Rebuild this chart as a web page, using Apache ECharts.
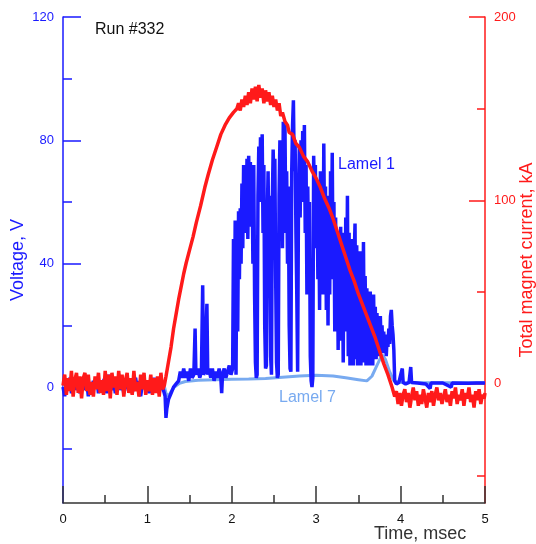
<!DOCTYPE html>
<html>
<head>
<meta charset="utf-8">
<script src="https://cdn.jsdelivr.net/npm/echarts@6/dist/echarts.min.js"></script>
<style>
  html, body { margin: 0; padding: 0; background: #fff; }
  #chart { width: 536px; height: 544px; }
</style>
</head>
<body>
<div id="chart"></div>
<script>
// tick values
const timeTicks = [0, 1, 2, 3, 4, 5];
const timeMinorTicks = [0.5, 1.5, 2.5, 3.5, 4.5];
const voltTicks = [0, 40, 80, 120];
const voltMinorTicks = [-20, 20, 60, 100];
const currTicks = [0, 100, 200];
const currMinorTicks = [-50, 50, 150];

// Total magnet current, kA  [time msec, kA]
const currentData = [
  [0,-1],[0.02,5],[0.04,-6],[0.06,3],[0.08,-4],[0.1,7],[0.12,-7],[0.14,2],[0.16,6],[0.18,-5],
  [0.2,4],[0.22,-8],[0.24,3],[0.26,6],[0.28,-4],[0.3,5],[0.32,-6],[0.34,1],[0.36,-7],[0.38,4],
  [0.4,-3],[0.42,6],[0.44,-5],[0.46,2],[0.48,-6],[0.5,7],[0.52,-4],[0.54,5],[0.56,-8],[0.58,6],
  [0.6,-2],[0.62,4],[0.64,-6],[0.66,7],[0.68,-3],[0.7,5],[0.72,-7],[0.74,2],[0.76,6],[0.78,-5],
  [0.8,3],[0.82,-6],[0.84,7],[0.86,-4],[0.88,1],[0.9,-7],[0.92,5],[0.94,-3],[0.96,6],[0.98,-6],
  [1,2],[1.02,-4],[1.04,5],[1.06,-6],[1.08,3],[1.1,-5],[1.12,4],[1.14,-7],[1.16,6],[1.18,-3],[1.2,-1],
  [1.22,4],[1.25,12],[1.28,20],[1.31,30],[1.34,38],[1.37,46],[1.4,53],[1.43,60],[1.46,66],[1.5,73],
  [1.54,80],[1.58,88],[1.63,97],[1.68,107],[1.72,114],[1.77,122],[1.82,129],[1.87,136],[1.92,141],
  [1.97,145],[2.02,148],[2.06,150],[2.08,153],[2.1,149],[2.12,155],[2.14,151],[2.16,157],[2.18,152],
  [2.2,159],[2.22,153],[2.24,161],[2.26,155],[2.28,162],[2.3,154],[2.32,163],[2.34,156],[2.36,161],
  [2.38,153],[2.4,160],[2.42,154],[2.44,159],[2.46,152],[2.48,157],[2.5,151],[2.52,155],[2.54,149],
  [2.56,153],[2.58,146],[2.6,148],[2.63,143],[2.66,141],[2.68,137],[2.72,136],[2.76,131],[2.8,129],
  [2.85,124],[2.9,121],[2.95,116],[3,112],[3.05,107],[3.1,101],[3.15,96],[3.2,90],[3.25,83],
  [3.3,76],[3.35,69],[3.4,62],[3.45,56],[3.5,49],[3.55,43],[3.6,37],[3.65,31],[3.7,25],[3.75,18],
  [3.8,11],[3.85,5],[3.9,-2],[3.93,-7],
  [3.95,-4],[3.97,-11],[3.99,-5],[4.01,-12],[4.03,-6],[4.05,-3],[4.07,-10],[4.09,-5],[4.11,-13],
  [4.13,-7],[4.15,-2],[4.17,-9],[4.19,-4],[4.21,-12],[4.23,-6],[4.25,-11],[4.27,-3],[4.29,-8],
  [4.31,-13],[4.33,-5],[4.35,-10],[4.37,-4],[4.39,-12],[4.41,-6],[4.43,-2],[4.45,-9],[4.47,-5],
  [4.49,-11],[4.51,-7],[4.53,-3],[4.55,-10],[4.57,-6],[4.59,-12],[4.61,-4],[4.63,-8],[4.65,-2],
  [4.67,-11],[4.69,-6],[4.71,-9],[4.73,-3],[4.75,-12],[4.77,-5],[4.79,-8],[4.81,-2],[4.83,-10],
  [4.85,-6],[4.87,-13],[4.89,-4],[4.91,-9],[4.93,-3],[4.95,-11],[4.97,-6],[4.99,-8],[5,-5]
];

// Lamel 1 voltage, V
const lamel1Data = [
  [0,0],[0.02,-3],[0.04,2],[0.06,-1],[0.08,3],[0.1,-2],[0.12,1],[0.14,3],[0.16,-1],[0.18,2],
  [0.2,-2],[0.22,0],[0.24,3],[0.26,-1],[0.28,2],[0.3,-3],[0.32,1],[0.34,-1],[0.36,2],[0.38,0],
  [0.4,3],[0.42,-2],[0.44,1],[0.46,-1],[0.48,2],[0.5,3],[0.52,-2],[0.54,4],[0.56,1],[0.58,-1],
  [0.6,2],[0.62,-2],[0.64,1],[0.66,3],[0.68,-1],[0.7,2],[0.72,-2],[0.74,0],[0.76,3],[0.78,-1],
  [0.8,2],[0.82,-2],[0.84,1],[0.86,3],[0.88,-1],[0.9,2],[0.92,-3],[0.94,1],[0.96,2],[0.98,-1],
  [1,1],[1.02,-2],[1.04,2],[1.06,0],[1.08,3],[1.1,-1],[1.12,1],[1.14,-2],[1.16,2],[1.18,0],
  [1.2,0],[1.21,-3],[1.22,-10],[1.23,-7],[1.25,-4],[1.28,-2],[1.31,0],[1.34,1],[1.37,2],[1.39,5],
  [1.41,3],[1.43,6],[1.45,3],[1.47,5],[1.49,2],[1.51,6],[1.53,3],[1.55,4],[1.565,19],[1.575,4],
  [1.6,6],[1.62,3],[1.64,5],[1.655,33],[1.665,4],[1.68,5],[1.705,27],[1.715,4],[1.73,6],[1.75,3],
  [1.77,6],[1.79,2],[1.81,5],[1.83,3],[1.85,6],[1.87,3],[1.88,-2],[1.89,4],[1.91,6],[1.93,3],
  [1.95,5],[1.97,7],[1.99,4],[2,4],
  [2.01,6],[2.02,48],[2.03,12],[2.04,54],[2.05,4],[2.06,52],[2.07,18],[2.08,57],[2.09,35],[2.1,58],
  [2.11,40],[2.12,66],[2.13,45],[2.14,72],[2.15,50],[2.16,70],[2.17,55],[2.18,74],[2.19,48],[2.2,75],
  [2.21,58],[2.22,73],[2.23,52],[2.24,70],[2.25,40],[2.26,72],[2.27,30],[2.28,8],[2.29,3],[2.3,4],
  [2.31,62],[2.32,78],[2.33,60],[2.34,81],[2.35,65],[2.36,82],[2.37,50],[2.38,72],[2.39,20],[2.4,6],
  [2.41,7],[2.42,55],[2.43,70],[2.44,40],[2.45,62],[2.46,10],[2.47,4],[2.48,60],[2.49,77],[2.5,65],
  [2.51,74],[2.52,35],[2.53,8],[2.54,3],[2.55,4],[2.56,62],[2.57,80],[2.58,55],[2.59,78],[2.6,45],
  [2.61,86],[2.62,60],[2.63,85],[2.64,50],[2.65,70],[2.66,40],[2.67,65],[2.68,20],[2.69,6],[2.7,5],
  [2.71,70],[2.72,85],[2.73,93],[2.74,70],[2.75,80],[2.76,50],[2.77,30],[2.78,5],[2.79,60],[2.8,78],
  [2.81,55],[2.82,80],[2.83,60],[2.84,83],[2.85,70],[2.86,85],[2.87,50],[2.88,72],[2.89,30],[2.9,65],
  [2.91,40],[2.92,60],[2.93,10],[2.94,2],[2.95,0],[2.96,3],[2.97,75],[2.98,60],[2.99,72],[3,45],
  [3.01,66],[3.02,35],[3.03,62],[3.04,25],[3.05,70],[3.06,40],[3.07,68],[3.08,30],[3.09,79],[3.1,45],
  [3.11,65],[3.12,25],[3.13,58],[3.14,20],[3.15,62],[3.16,30],[3.17,70],[3.18,40],[3.19,76],[3.2,35],
  [3.21,60],[3.22,18],[3.23,55],[3.24,25],[3.25,50],[3.26,12],[3.27,48],[3.28,20],[3.29,52],[3.3,15],
  [3.31,45],[3.32,8],[3.33,50],[3.34,18],[3.35,55],[3.36,22],[3.37,62],[3.38,10],[3.39,50],[3.4,7],
  [3.41,45],[3.42,14],[3.43,48],[3.44,7],[3.45,42],[3.46,53],[3.47,9],[3.48,46],[3.49,7],[3.5,40],
  [3.51,12],[3.52,44],[3.53,7],[3.54,38],[3.55,10],[3.56,47],[3.57,8],[3.58,36],[3.59,7],[3.6,32],
  [3.61,10],[3.62,30],[3.63,7],[3.64,31],[3.65,9],[3.66,28],[3.67,7],[3.68,30],[3.69,11],[3.7,26],
  [3.71,9],[3.72,24],[3.73,11],[3.74,22],[3.75,10],[3.76,23],[3.77,12],[3.78,20],[3.79,11],[3.8,18],
  [3.81,12],[3.82,17],[3.83,10],[3.84,16],[3.85,13],[3.86,19],[3.87,14],[3.88,23],[3.89,25],[3.9,20],
  [3.91,17],[3.92,12],[3.93,2],[3.95,1],[3.98,1.5],[4,1],[4.01,5],[4.02,6],[4.03,1.5],[4.06,1],
  [4.1,1.5],[4.12,6.5],[4.13,1.5],[4.2,1.3],[4.3,1],[4.35,-0.5],[4.36,1.3],[4.5,1.3],[4.6,0],
  [4.61,1.3],[4.8,1.2],[4.9,1.3],[5,1.3]
];

// Lamel 7 voltage, V
const lamel7Data = [
  [0,0.5],[0.3,0.3],[0.6,0.5],[0.9,0.2],[1.2,0.3],[1.22,-2],[1.25,-3],[1.28,-1.5],[1.32,0],
  [1.38,1.2],[1.45,1.8],[1.6,2.2],[1.8,2.4],[2,2.5],[2.2,2.6],[2.4,2.8],[2.6,3.2],[2.8,3.6],
  [3,3.8],[3.2,3.6],[3.35,3],[3.5,2.4],[3.6,2],[3.66,3.5],[3.72,7],[3.78,10.5],[3.82,9],
  [3.87,5],[3.92,2],[4,1.5],[4.5,1.4],[5,1.4]
];

const chart = echarts.init(document.getElementById('chart'));

const BLUE = '#1a1aff';
const RED = '#ff1a1a';
const LIGHT = '#78aaf0';

const option = {
  backgroundColor: '#fff',
  animation: false,
  textStyle: { fontFamily: 'Liberation Sans, Arial, sans-serif' },
  grid: { left: 63, right: 51, top: 17, bottom: 41, outerBoundsMode: 'none' },
  xAxis: [
    {
      type: 'value', min: 0, max: 5, position: 'bottom',
      axisLine: { onZero: false, lineStyle: { color: '#333', width: 1.5 } },
      axisTick: { inside: true, length: 17, customValues: timeTicks, lineStyle: { color: '#333', width: 1.5 } },
      axisLabel: { customValues: timeTicks, color: '#111', fontSize: 13, margin: 10 },
      splitLine: { show: false }
    },
    {
      type: 'value', min: 0, max: 5, position: 'bottom',
      axisLine: { show: false, onZero: false },
      axisTick: { inside: true, length: 8, customValues: timeMinorTicks, lineStyle: { color: '#333', width: 1.5 } },
      axisLabel: { show: false },
      splitLine: { show: false }
    }
  ],
  yAxis: [
    {
      type: 'value', min: -37.6, max: 120, position: 'left',
      name: 'Voltage, V', nameLocation: 'middle', nameGap: 36, nameMoveOverlap: false,
      nameTextStyle: { color: BLUE, fontSize: 18 },
      axisLine: { onZero: false, lineStyle: { color: BLUE, width: 1.5 } },
      axisTick: { inside: true, length: 18, customValues: voltTicks, lineStyle: { color: BLUE, width: 1.5 } },
      axisLabel: { customValues: voltTicks, color: BLUE, fontSize: 13, margin: 9 },
      splitLine: { show: false }
    },
    {
      type: 'value', min: -37.6, max: 120, position: 'left',
      axisLine: { show: false, onZero: false },
      axisTick: { inside: true, length: 9, customValues: voltMinorTicks, lineStyle: { color: BLUE, width: 1.5 } },
      axisLabel: { show: false },
      splitLine: { show: false }
    },
    {
      type: 'value', min: -65, max: 200, position: 'right',
      name: 'Total magnet current, kA', nameLocation: 'middle', nameGap: 33, nameMoveOverlap: false,
      nameRotate: 90,
      nameTextStyle: { color: RED, fontSize: 18 },
      axisLine: { onZero: false, lineStyle: { color: RED, width: 1.5 } },
      axisTick: { inside: true, length: 16, customValues: currTicks, lineStyle: { color: RED, width: 1.5 } },
      axisLabel: { customValues: currTicks, color: RED, fontSize: 13, margin: 9 },
      splitLine: { show: false }
    },
    {
      type: 'value', min: -65, max: 200, position: 'right',
      axisLine: { show: false, onZero: false },
      axisTick: { inside: true, length: 8, customValues: currMinorTicks, lineStyle: { color: RED, width: 1.5 } },
      axisLabel: { show: false },
      splitLine: { show: false }
    }
  ],
  series: [
    {
      name: 'Lamel 7', type: 'line', yAxisIndex: 0, data: lamel7Data,
      showSymbol: false, z: 1,
      lineStyle: { color: LIGHT, width: 3 }
    },
    {
      name: 'Lamel 1', type: 'line', yAxisIndex: 0, data: lamel1Data,
      showSymbol: false, z: 2,
      lineStyle: { color: BLUE, width: 3.5 }
    },
    {
      name: 'Current', type: 'line', yAxisIndex: 2, data: currentData,
      showSymbol: false, z: 3,
      lineStyle: { color: RED, width: 3.5 }
    }
  ],
  graphic: [
    { type: 'text', left: 95, top: 22, style: { text: 'Run #332', fill: '#111', fontSize: 16, fontFamily: 'Liberation Sans' } },
    { type: 'text', left: 338, top: 157, style: { text: 'Lamel 1', fill: BLUE, fontSize: 16, fontFamily: 'Liberation Sans' } },
    { type: 'text', left: 279, top: 390, style: { text: 'Lamel 7', fill: LIGHT, fontSize: 16, fontFamily: 'Liberation Sans' } },
    { type: 'text', left: 374, top: 525, style: { text: 'Time, msec', fill: '#333', fontSize: 18, fontFamily: 'Liberation Sans' } }
  ]
};

chart.setOption(option);
</script>
</body>
</html>
